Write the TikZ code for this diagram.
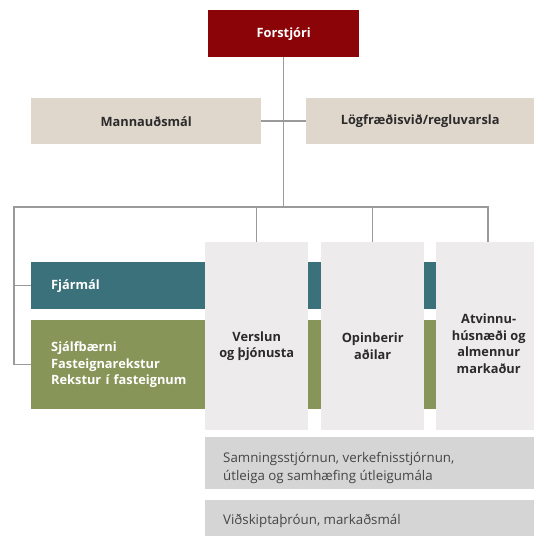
\documentclass[tikz,border=0pt]{standalone}
\usepackage{fontspec}
\setmainfont{Open Sans}
\usetikzlibrary{positioning}

\definecolor{ceored}{HTML}{8B0508}
\definecolor{staffbeige}{HTML}{DFD6CC}
\definecolor{finteal}{HTML}{3A717A}
\definecolor{opsgreen}{HTML}{879558}
\definecolor{colgray}{HTML}{EDEBEB}
\definecolor{bargray}{HTML}{D5D5D6}
\definecolor{linkgray}{HTML}{9A9A9A}
\definecolor{inkdark}{HTML}{2B2B2B}
\definecolor{inkgray}{HTML}{454545}

\begin{document}
\begin{tikzpicture}[
  x=1pt, y=-1pt,
  unit/.style={anchor=north west, inner sep=0pt,
    font=\bfseries\fontsize{12.8}{16.5}\selectfont},
  staff/.style={unit, fill=staffbeige, text=inkdark, minimum height=46pt},
  division/.style={unit, text=white, align=left, inner xsep=20pt,
    text width=369pt},
  market/.style={anchor=north west, fill=colgray, inner sep=0pt,
    minimum width=103pt, minimum height=188pt},
  marketname/.style={font=\bfseries\fontsize{12.8}{16.7}\selectfont,
    text=inkdark, align=center},
  service/.style={anchor=north west, fill=bargray, inner sep=0pt,
    minimum width=329pt},
  servicename/.style={anchor=west, inner sep=0pt, align=left, text=inkgray,
    font=\fontsize{13.3}{18}\selectfont},
  link/.style={draw=linkgray, line width=1.5pt},
]
  \useasboundingbox (0,0) rectangle (534,536);

  % top of the tree
  \node[unit, fill=ceored, text=white, minimum width=151pt,
    minimum height=47pt] (ceo) at (208,10) {Forstjóri};
  \node[staff, minimum width=230pt] (hr) at (31,98) {Mannauðsmál};
  \node[staff, minimum width=228pt] (legal) at (306,98)
    {Lögfræðisvið/regluvarsla};

  % divisions, partly hidden behind the markets
  \node[division, fill=finteal, minimum height=47pt] (finance) at (31,262)
    {Fjármál};
  \node[division, fill=opsgreen, minimum height=89pt] (operations)
    at (31,320) {Sjálfbærni\\Fasteignarekstur\\Rekstur í fasteignum};

  % markets
  \node[market] (retail) at (205,242) {};
  \node[market] (public) at (321,242) {};
  \node[market, minimum width=98pt] (commercial) at (436,242) {};
  \node[marketname] (retailname) at ([yshift=-10pt]retail.center)
    {Verslun\\og þjónusta};
  \node[marketname] (publicname) at ([yshift=-10pt]public.center)
    {Opinberir\\aðilar};
  \node[marketname] (commercialname)
    at ([shift={(3.5pt,-7.5pt)}]commercial.center)
    {Atvinnu-\\húsnæði og\\almennur\\markaður};

  % shared services
  \node[service, minimum height=52pt] (contracts) at (205,437) {};
  \node[service, minimum height=36pt] (development) at (205,500) {};
  \node[servicename] (contractsname)
    at ([shift={(18pt,-5pt)}]contracts.west)
    {Samningsstjórnun, verkefnisstjórnun,\\útleiga og samhæfing útleigumála};
  \node[servicename] (developmentname)
    at ([shift={(18pt,-3pt)}]development.west)
    {Viðskiptaþróun, markaðsmál};

  % connectors
  \coordinate (busleft) at (14,207);
  \coordinate (busright) at (488,207);
  \draw[link] (ceo.south) -- (ceo.south |- busleft);
  \draw[link] (hr.east) -- (legal.west);
  \draw[link] (busright |- commercial.north) -- (busright) -- (busleft)
    |- (operations.west);
  \draw[link] (busleft |- finance.west) -- (finance.west);
  \draw[link] (retail.north |- busleft) -- (retail.north);
  \draw[link] (public.north |- busleft) -- (public.north);
\end{tikzpicture}
\end{document}
